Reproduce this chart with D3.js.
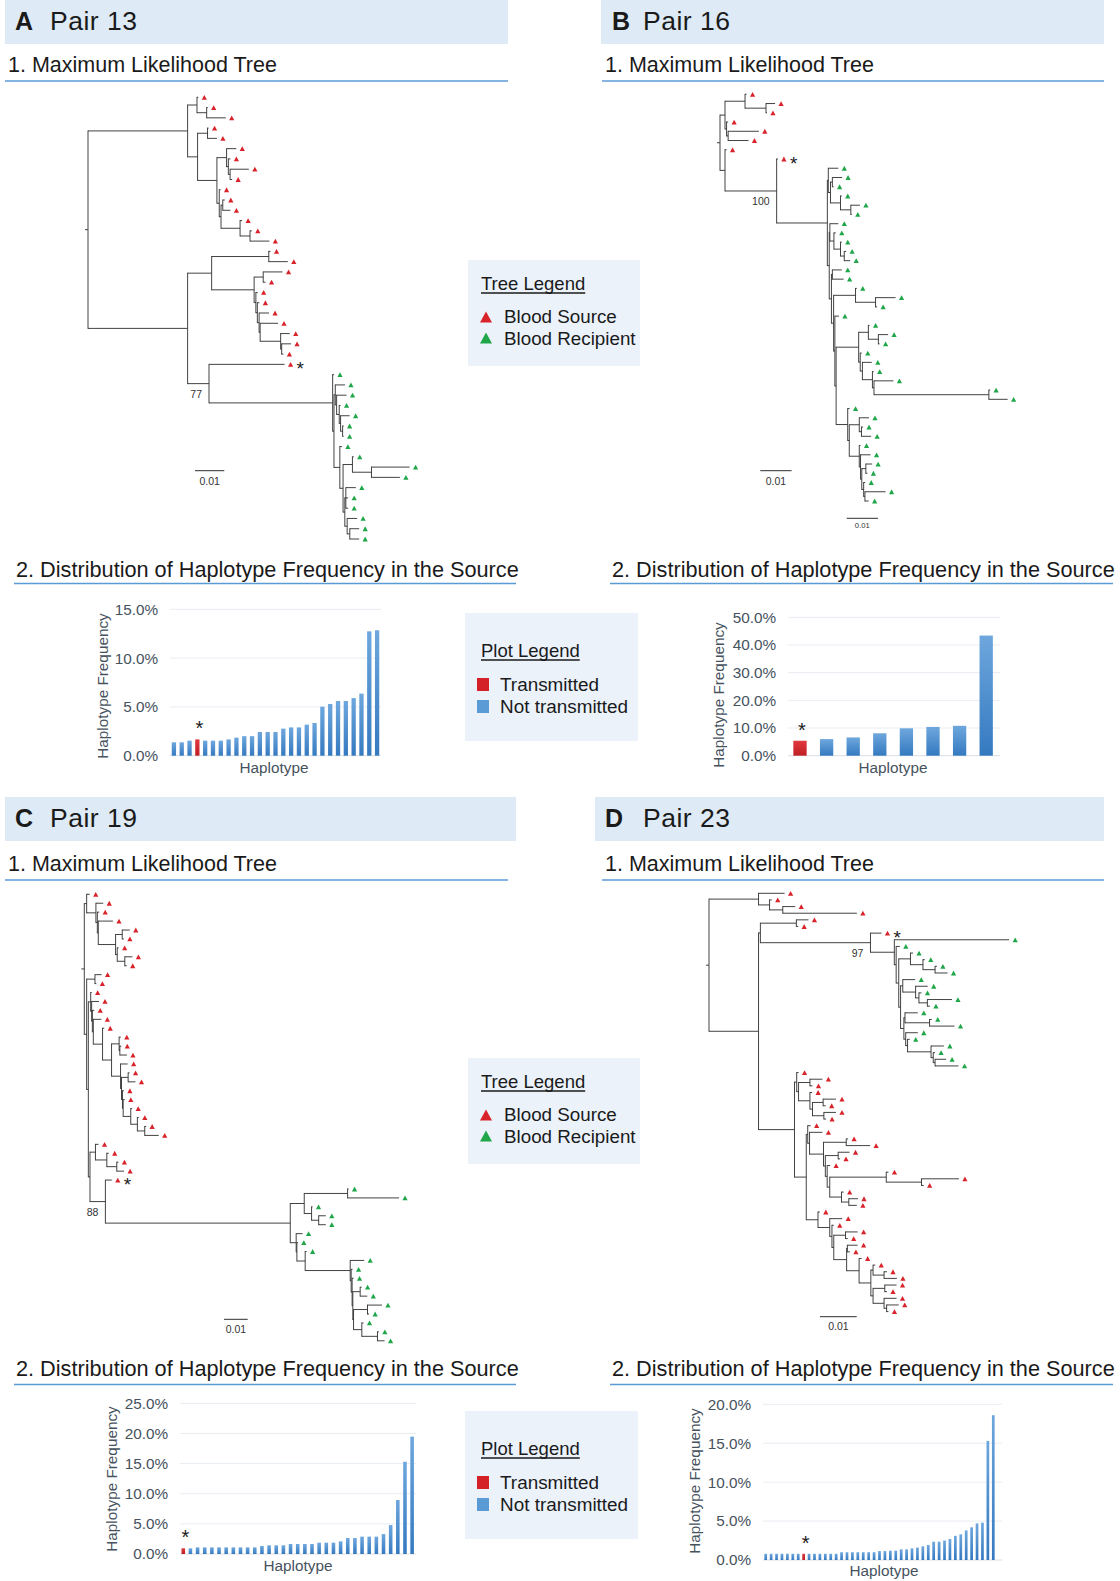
<!DOCTYPE html>
<html>
<head>
<meta charset="utf-8">
<script src="https://cdn.jsdelivr.net/npm/d3@7"></script>
<style>
  body { margin: 0; background: #fff; }
  svg { display: block; }
</style>
</head>
<body>
<svg id="fig" width="1120" height="1581"></svg>
<script>
// ---- data ----
// trees in Newick, branch lengths in units of 0.001 substitutions/site
// s = source haplotype, r = recipient haplotype, x = transmitted source haplotype (*)
const treeA = "(((s:0.45,(s:0.35,s:6.5):3.3):3.2,((s:0.35,s:3.2):3.4,((s:3.3,(s:0.7,(s:6.4,s:0.7):0.6):0.6):3.3,(s:0.45,((s:0.7,s:2.6):0.6,(s:0.7,(s:0.6,s:6.6):3.4):6.5):0.6):0.8):6.6):3.4):34,(((s:0.6,s:6.5):19.5,((s:6.6,s:0.8):3.1,(s:0.6,(s:0.7,(s:3.4,(s:6.1,(s:3.1,(s:3.2,s:0.6):0.35):7):0.35):0.6):0.5):0.6):14.5):8.2,(x:25.8,(r:0.45,((r:3.3,(r:3.4,(r:0.45,(r:3.1,(r:0.35,r:0.35):0.7):0.45):0.9):0.45):0.45,(r:0.7,((r:0.45,(r:13,r:9.7):6.5):3.2,((r:3.4,r:0.8,r:0.8):0.35,(r:3.4,(r:3.2,r:3.2):0.9):0.8):0.6):1.1):2):0.45):42.2)77:7.3):34);"
const treeB = "(((s:0.5,(s:2.9,s:0.3):6.7):6.4,(s:0.5,(s:9.8,s:6.5):0.5):0.5):1.6,(s:0.5,(x:0.4,((r:3.2,((r:3.1,r:0.4):0.6,(r:0.4,(r:2.9,r:0.3):3.3):3.2):0.7):0.3,((r:2.7,(r:0.6,(r:0.4,(r:0.6,r:1.9):1.2):2.1):1.3):0.2,((r:3.0,r:3.6):0.3,((r:0.4,(r:6.4,r:0.5):6.4):7.0,(r:1.3,(((r:0.4,(r:3.1,r:0.4):3.2):3.1,(r:0.5,(r:3.0,(r:0.4,(r:6.2,(r:0.4,r:6.0):36.7):0.5):3.2):0.7):0.5):7.2,(r:0.6,((r:3.1,(r:0.5,r:3.1):0.7):3.2,(r:0.4,(r:3.2,((r:2.0,r:0.5):1.3,(r:0.5,(r:6.6,r:1.2):0.4):0.6):0.4):0.4):3.2):0.5):3.7):0.4):0.4):0.7):0.7):0.6):16.2)100:16.5):1.6);"
const treeC = "((s:1.3,(s:3.1,(s:0.8,(s:6.2,((s:3.2,s:0.7):2.8,(s:0.6,(s:3.2,s:0.8):3.2):0.7):7.3):0.4):0.6):3.9):1.0,((s:2.8,s:0.6):3.5,((s:0.4,(s:3.1,(s:0.8,(s:3.4,(s:0.7,((s:0.7,(s:0.6,s:3.0):0.3):3.2,(s:3.0,((s:0.6,s:3.1):2.8,(s:0.6,(s:0.7,(s:0.6,(s:0.6,(s:0.6,s:5.9):3.1):2.8):3.2):0.3):0.4):0.4):3.8):3.8):3.9):0.4):0.3):0.4):1.0,((s:1.3,(s:0.8,(s:0.7,s:3.1):4.2):4.8):2.3,(x:2.7,(((r:0.4,r:21.7):18.3,(r:0.4,(r:3.0,r:3.0):3.0):3.1):5.9,(r:2.7,(r:0.4,(r:0.6,(r:5.9,(r:0.6,(r:0.6,((r:0.6,r:3.0):3.1,((r:6.1,r:0.7):5.9,(r:0.7,(r:0.6,r:3.0):6.6):3.5):0.3):0.3):0.4):0.4):19.0):3.5):0.3):2.5):78.0)88:6.5):0.7):0.7):1.0);"
const treeD = "((s:7.1,(s:0.6,(s:3.4,s:20.2):3.6):3.0):13.5,(((s:3.3,s:0.5):9.8,(x:3.0,(r:31.3,(r:1.0,((r:0.7,(r:0.5,(r:0.5,r:3.4):3.3):3.4):3.2,((r:3.4,(r:3.3,(r:0.7,(r:6.7,r:0.7):2.3):0.9):3.5):0.6,((r:3.5,(r:0.6,r:6.8):6.7):0.3,(r:3.3,(r:0.6,(r:3.5,(r:0.5,(r:3.0,r:6.4):0.5):0.6):6.4):0.5):0.5):0.9):0.5):0.7):0.5):6.5)97:30.0):0.5,((s:0.5,((s:3.4,s:0.7):3.1,(s:0.6,((s:3.5,s:0.7):2.9,(s:3.3,s:0.6):3.1):0.7):3.1):0.5):0.6,((s:0.8,(s:3.5,((s:0.5,s:6.5):6.2,((s:3.1,s:0.5):3.5,(s:0.8,((s:0.6,(s:10.2,s:0.6):9.6):15.4,(s:0.6,(s:2.5,s:2.2):2.0):3.2):0.7):0.5):0.5):3.8):0.5):0.4,(s:0.5,(s:3.4,(s:0.5,((s:3.3,s:0.6):3.2,((s:2.8,s:0.7):0.2,(s:0.7,((s:0.6,(s:0.8,s:3.5):3.0):0.6,((s:3.2,s:0.6):3.2,(s:3.4,(s:3.3,s:0.5):0.7):3.0):0.6):3.2):3.4):3.5):0.5):0.6):3.2):3.2):3.2):9.8):13.5);"

// haplotype frequencies (%) in the source, sorted
const freqA = [1.37, 1.37, 1.54, 1.67, 1.54, 1.54, 1.54, 1.67, 1.85, 2.0, 2.0, 2.43, 2.43, 2.43, 2.77, 2.9, 2.9, 3.18, 3.35, 5.02, 5.3, 5.6, 5.6, 5.9, 6.36, 12.74, 12.85]
const freqB = [5.4, 6.0, 6.6, 8.1, 9.9, 10.4, 10.8, 43.4]
const freqC = [0.94, 0.94, 1.1, 1.1, 1.1, 1.1, 1.1, 1.1, 1.1, 1.1, 1.1, 1.33, 1.44, 1.44, 1.44, 1.66, 1.66, 1.66, 1.66, 1.88, 1.88, 1.88, 2.1, 2.65, 2.65, 2.88, 2.88, 2.88, 3.3, 4.8, 8.96, 15.3, 19.47]
const freqD = [0.8, 0.8, 0.8, 0.8, 0.8, 0.8, 0.8, 0.8, 0.8, 0.8, 0.8, 0.8, 0.8, 0.8, 1.0, 1.0, 1.0, 1.0, 1.0, 1.0, 1.0, 1.15, 1.15, 1.2, 1.2, 1.37, 1.37, 1.5, 1.6, 1.76, 1.93, 2.35, 2.35, 2.5, 2.7, 3.1, 3.3, 3.8, 4.2, 4.7, 4.8, 15.3, 18.6]
const transmitted = [3, 0, 0, 7]   // index of the transmitted haplotype in each frequency list
const ticksA = [0, 5, 10, 15]
const ticksB = [0, 10, 20, 30, 40, 50]
const ticksC = [0, 5, 10, 15, 20, 25]
const ticksD = [0, 5, 10, 15, 20]

const pairs = ['Pair 13', 'Pair 16', 'Pair 19', 'Pair 23']
const letters = ['A', 'B', 'C', 'D']
const treeTitle = '1. Maximum Likelihood Tree'
const plotTitle = '2. Distribution of Haplotype Frequency in the Source'

// ---- drawing ----
const FONT = '"Liberation Sans", Arial, Helvetica, sans-serif'
const RED = '#d9232a'
const GREEN = '#1fa648'
const svg = d3.select('#fig')
svg.append('rect').attr('width', 1120).attr('height', 1581).attr('fill', '#fff')

const defs = svg.append('defs')
const gBlue = defs.append('linearGradient').attr('id', 'blue').attr('x1', 0).attr('x2', 0).attr('y1', 0).attr('y2', 1)
gBlue.append('stop').attr('offset', '0%').attr('stop-color', '#6ea7dd')
gBlue.append('stop').attr('offset', '100%').attr('stop-color', '#3479c0')
const gRed = defs.append('linearGradient').attr('id', 'red').attr('x1', 0).attr('x2', 0).attr('y1', 0).attr('y2', 1)
gRed.append('stop').attr('offset', '0%').attr('stop-color', '#e0383d')
gRed.append('stop').attr('offset', '100%').attr('stop-color', '#bf1f26')

function parseNewick(s) {
  let i = 0
  function node() {
    const n = { children: [], name: '', length: 0 }
    if (s[i] === '(') {
      i++
      n.children.push(node())
      while (s[i] === ',') { i++; n.children.push(node()) }
      i++
    }
    let name = ''
    while (i < s.length && !':,);'.includes(s[i])) name += s[i++]
    n.name = name.trim()
    if (s[i] === ':') {
      i++
      let num = ''
      while (i < s.length && !',);'.includes(s[i])) num += s[i++]
      n.length = +num
    }
    return n
  }
  return node()
}

function tri(cx, cy, w, h) {
  return `M${cx - w / 2},${cy + h / 2}L${cx + w / 2},${cy + h / 2}L${cx},${cy - h / 2}Z`
}

// headers
const headerBoxes = [
  { x: 5, y: 0, w: 503, lx: 15, tx: 50 },
  { x: 601, y: 0, w: 503, lx: 612, tx: 643 },
  { x: 5, y: 797, w: 511, lx: 15, tx: 50 },
  { x: 595, y: 797, w: 509, lx: 605, tx: 643 }
]
headerBoxes.forEach((b, i) => {
  svg.append('rect').attr('x', b.x).attr('y', b.y).attr('width', b.w).attr('height', 44).attr('fill', '#deebf6')
  svg.append('text').attr('x', b.lx).attr('y', b.y + 30).attr('font-family', FONT).attr('font-size', 25)
    .attr('font-weight', 'bold').attr('fill', '#1a1a1a').text(letters[i])
  svg.append('text').attr('x', b.tx).attr('y', b.y + 30).attr('font-family', FONT).attr('font-size', 26.5)
    .attr('letter-spacing', 0.5).attr('fill', '#1a1a1a').text(pairs[i])
})

const subs = [
  { t: treeTitle, x: 8, y: 72, x1: 5, x2: 508, uy: 81 },
  { t: treeTitle, x: 605, y: 72, x1: 602, x2: 1104, uy: 81 },
  { t: treeTitle, x: 8, y: 871, x1: 5, x2: 508, uy: 880 },
  { t: treeTitle, x: 605, y: 871, x1: 602, x2: 1104, uy: 880 },
  { t: plotTitle, x: 16, y: 577, x1: 14, x2: 516, uy: 583.5 },
  { t: plotTitle, x: 612, y: 577, x1: 610, x2: 1113, uy: 583.5 },
  { t: plotTitle, x: 16, y: 1376, x1: 14, x2: 516, uy: 1384.5 },
  { t: plotTitle, x: 612, y: 1376, x1: 610, x2: 1113, uy: 1384.5 }
]
subs.forEach(s => {
  svg.append('text').attr('x', s.x).attr('y', s.y).attr('font-family', FONT)
    .attr('font-size', s.t === plotTitle ? 21.7 : 21.5)
    .attr('fill', '#1a1a1a').text(s.t)
  svg.append('line').attr('x1', s.x1).attr('x2', s.x2).attr('y1', s.uy).attr('y2', s.uy)
    .attr('stroke', '#5b9bd5').attr('stroke-width', 1.5)
})

// legends
function underlinedTitle(g, x, y, t) {
  const tx = g.append('text').attr('x', x).attr('y', y).attr('font-family', FONT).attr('font-size', 18.5)
    .attr('fill', '#1a1a1a').text(t)
  const w = tx.node().getComputedTextLength()
  g.append('line').attr('x1', x).attr('x2', x + w).attr('y1', y + 3).attr('y2', y + 3)
    .attr('stroke', '#1a1a1a').attr('stroke-width', 1.3)
}
;[260, 1058].forEach(top => {
  const g = svg.append('g').attr('transform', `translate(468,${top})`)
  g.append('rect').attr('width', 172).attr('height', 106).attr('fill', '#ebf2fa')
  underlinedTitle(g, 13, 30, 'Tree Legend')
  const items = [['Blood Source', RED], ['Blood Recipient', GREEN]]
  items.forEach(([t, c], i) => {
    g.append('path').attr('d', tri(18, 57 + i * 21, 12, 11)).attr('fill', c)
    g.append('text').attr('x', 36).attr('y', 63 + i * 22).attr('font-family', FONT).attr('font-size', 18.8)
      .attr('fill', '#1a1a1a').text(t)
  })
})
;[613, 1411].forEach(top => {
  const g = svg.append('g').attr('transform', `translate(465,${top})`)
  g.append('rect').attr('width', 173).attr('height', 128).attr('fill', '#ebf2fa')
  underlinedTitle(g, 16, 44, 'Plot Legend')
  const items = [['Transmitted', '#d42027'], ['Not transmitted', '#5b9bd5']]
  items.forEach(([t, c], i) => {
    g.append('rect').attr('x', 12).attr('y', 65 + i * 22).attr('width', 12).attr('height', 13).attr('fill', c)
    g.append('text').attr('x', 35).attr('y', 78 + i * 22).attr('font-family', FONT).attr('font-size', 18.9)
      .attr('fill', '#1a1a1a').text(t)
  })
})

// trees
const treeLayouts = [
  { nwk: treeA, rootX: 88, top: 97.3, bottom: 539, px01: 29.3, bars: [{ x: 195, y: 470.7, ly: 484.5, fs: 10.5 }] },
  { nwk: treeB, rootX: 720, top: 94.3, bottom: 501, px01: 31.3, bars: [{ x: 760.3, y: 470.7, ly: 484.5, fs: 10.5 }, { x: 846.7, y: 518.3, ly: 528.3, fs: 7.7 }] },
  { nwk: treeC, rootX: 84.3, top: 894.3, bottom: 1340.8, px01: 23.7, bars: [{ x: 224, y: 1319.3, ly: 1332.5, fs: 10.5 }] },
  { nwk: treeD, rootX: 709, top: 893.3, bottom: 1311.6, px01: 36.7, bars: [{ x: 820, y: 1316.7, ly: 1329.5, fs: 10.5 }] }
]

function drawTree(L) {
  const g = svg.append('g')
  const root = d3.hierarchy(parseNewick(L.nwk), d => d.children.length ? d.children : null)
  root.eachBefore(n => { n.dist = n.parent ? n.parent.dist + n.data.length * 0.001 : 0 })
  const leaves = root.leaves()
  leaves.forEach((n, i) => { n.row = i })
  root.eachAfter(n => {
    if (n.children) n.row = (n.children[0].row + n.children[n.children.length - 1].row) / 2
  })
  const x = d3.scaleLinear().domain([0, 0.01]).range([L.rootX, L.rootX + L.px01])
  const y = d3.scaleLinear().domain([0, leaves.length - 1]).range([L.top, L.bottom])
  const stroke = '#2e2e2e'

  g.selectAll('line.h').data(root.descendants().filter(n => n.parent)).join('line')
    .attr('x1', d => x(d.parent.dist)).attr('x2', d => x(d.dist))
    .attr('y1', d => y(d.row)).attr('y2', d => y(d.row))
    .attr('stroke', stroke).attr('stroke-width', 0.9)
  g.selectAll('line.v').data(root.descendants().filter(n => n.children)).join('line')
    .attr('x1', d => x(d.dist)).attr('x2', d => x(d.dist))
    .attr('y1', d => y(d.children[0].row) - 0.45).attr('y2', d => y(d.children[d.children.length - 1].row) + 0.45)
    .attr('stroke', stroke).attr('stroke-width', 0.9)
  g.append('line').attr('x1', x(0) - 3).attr('x2', x(0)).attr('y1', y(root.row)).attr('y2', y(root.row))
    .attr('stroke', stroke).attr('stroke-width', 0.9)

  g.selectAll('path.leaf').data(leaves).join('path')
    .attr('d', d => tri(x(d.dist) + 6, y(d.row), 5.2, 4.8))
    .attr('fill', d => d.data.name === 'r' ? GREEN : RED)
  leaves.filter(d => d.data.name === 'x').forEach(d => {
    g.append('text').attr('x', x(d.dist) + 12).attr('y', y(d.row) + 11).attr('font-family', FONT)
      .attr('font-size', 19).attr('fill', '#1a1a1a').text('*')
  })
  root.descendants().filter(n => n.children && n.data.name).forEach(n => {
    g.append('text').attr('x', x(n.dist) - 7).attr('y', y(n.row) + 14).attr('text-anchor', 'end')
      .attr('font-family', FONT).attr('font-size', 10.5).attr('fill', '#333').text(n.data.name)
  })
  const len = x(0.01) - x(0)
  L.bars.forEach(b => {
    g.append('line').attr('x1', b.x).attr('x2', b.x + len).attr('y1', b.y).attr('y2', b.y)
      .attr('stroke', stroke).attr('stroke-width', 1)
    g.append('text').attr('x', b.x + len / 2).attr('y', b.ly).attr('text-anchor', 'middle')
      .attr('font-family', FONT).attr('font-size', b.fs).attr('fill', '#333').text('0.01')
  })
}
treeLayouts.forEach(drawTree)

// bar charts
const barLayouts = [
  { vals: freqA, ticks: ticksA, band: [170, 381], pad: 0.45, grid: [170, 381], y0: 755.7, yTop: 609.3, lab: 158, ytx: 103, yty: 686, xtx: 274, xty: 772.5 },
  { vals: freqB, ticks: ticksB, band: [786.7, 999.5], pad: 0.5, grid: [788, 1000], y0: 755.7, yTop: 617.3, lab: 776, ytx: 719, yty: 695, xtx: 893, xty: 773 },
  { vals: freqC, ticks: ticksC, band: [179.7, 415.7], pad: 0.5, grid: [180, 416], y0: 1554, yTop: 1403.3, lab: 168, ytx: 112, yty: 1479, xtx: 298, xty: 1571 },
  { vals: freqD, ticks: ticksD, band: [763, 996], pad: 0.5, grid: [763, 1002], y0: 1560, yTop: 1404.3, lab: 751, ytx: 695, yty: 1481, xtx: 884, xty: 1576 }
]

barLayouts.forEach((L, k) => {
  const g = svg.append('g')
  const x = d3.scaleBand().domain(d3.range(L.vals.length)).range(L.band).paddingInner(L.pad).paddingOuter(L.pad / 2)
  const y = d3.scaleLinear().domain([0, d3.max(L.ticks)]).range([L.y0, L.yTop])
  g.selectAll('line.grid').data(L.ticks).join('line')
    .attr('x1', L.grid[0]).attr('x2', L.grid[1]).attr('y1', d => y(d)).attr('y2', d => y(d))
    .attr('stroke', d => d === 0 ? '#d9dee4' : '#e8edf3').attr('stroke-width', 1)
  const ax = g.append('g').attr('transform', `translate(${L.lab},0)`)
    .call(d3.axisLeft(y).tickValues(L.ticks).tickFormat(d => d.toFixed(1) + '%').tickSize(0).tickPadding(0))
  ax.select('.domain').remove()
  ax.selectAll('text').attr('font-family', FONT).attr('font-size', 15.3).attr('fill', '#46525e')
  g.selectAll('rect.bar').data(L.vals).join('rect')
    .attr('x', (d, i) => x(i)).attr('width', x.bandwidth())
    .attr('y', d => y(d)).attr('height', d => y(0) - y(d))
    .attr('fill', (d, i) => i === transmitted[k] ? 'url(#red)' : 'url(#blue)')
  const t = transmitted[k]
  g.append('text').attr('x', x(t) + x.bandwidth() / 2 + 2).attr('y', y(L.vals[t]) - 4)
    .attr('text-anchor', 'middle').attr('font-family', FONT).attr('font-size', 20).attr('fill', '#1a1a1a').text('*')
  g.append('text').attr('transform', `translate(${L.ytx},${L.yty}) rotate(-90)`).attr('text-anchor', 'middle')
    .attr('dy', '0.35em').attr('font-family', FONT).attr('font-size', 15.3).attr('fill', '#46525e').text('Haplotype Frequency')
  g.append('text').attr('x', L.xtx).attr('y', L.xty).attr('text-anchor', 'middle')
    .attr('font-family', FONT).attr('font-size', 15.3).attr('fill', '#46525e').text('Haplotype')
})
</script>
</body>
</html>
